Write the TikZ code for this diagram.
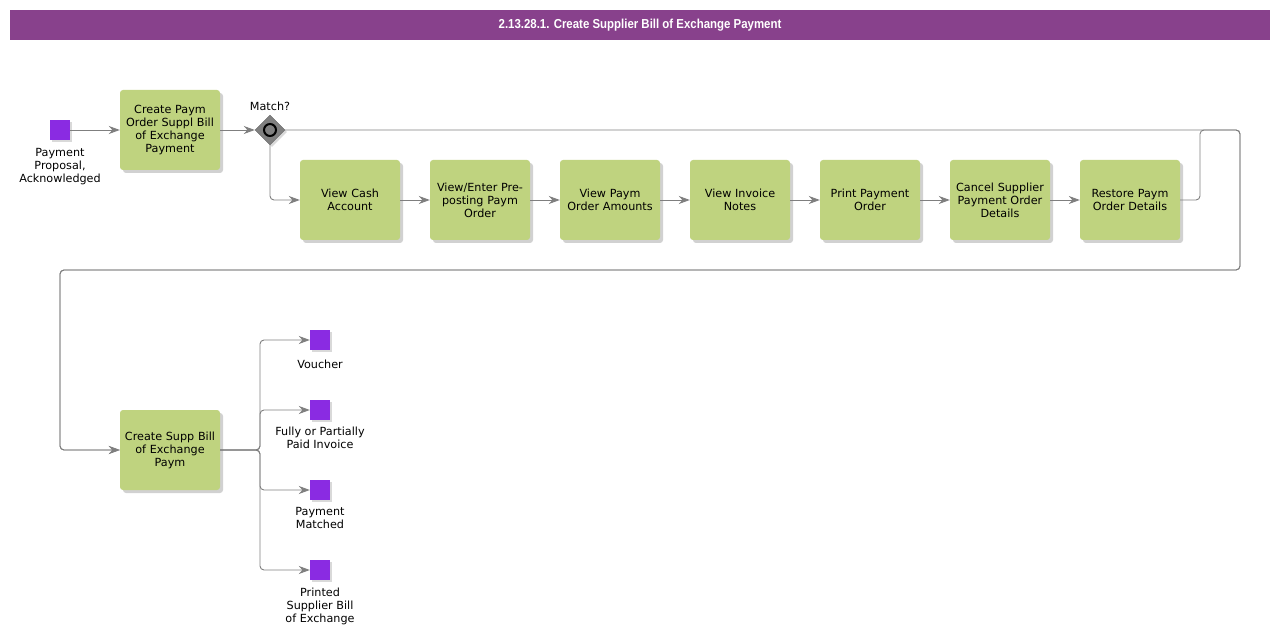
\documentclass[tikz,border=0pt]{standalone}
\usepackage{fontspec}
\setmainfont{DejaVu Sans}
\newfontfamily\titlefont[FakeStretch=0.88]{Liberation Sans}
\usetikzlibrary{positioning,arrows.meta,shadows,shapes.geometric}

\definecolor{barpurple}{HTML}{88418C}
\definecolor{evtpurple}{HTML}{8A2BE2}
\definecolor{taskgreen}{HTML}{BFD37F}
\definecolor{linegray}{HTML}{7F7F7F}
\definecolor{gategray}{HTML}{808080}

\tikzset{
  task/.style={fill=taskgreen, rounded corners=3pt, minimum width=100pt, minimum height=80pt,
    text width=99pt, align=center, inner sep=0pt, font=\fontsize{11.2}{13}\selectfont,
    drop shadow={shadow xshift=3pt, shadow yshift=-3pt, fill=black, opacity=0.18}},
  evt/.style={fill=evtpurple, minimum size=20pt, inner sep=0pt,
    drop shadow={shadow xshift=2pt, shadow yshift=-2pt, fill=black, opacity=0.15}},
  evtlbl/.style={align=center, inner sep=0pt, font=\fontsize{11.2}{13}\selectfont},
  gate/.style={diamond, fill=gategray, draw=black!60, minimum size=30pt, inner sep=0pt,
    drop shadow={shadow xshift=2pt, shadow yshift=-2pt, fill=black, opacity=0.15}},
  flow/.style={draw=linegray, line width=0.9pt, rounded corners=4pt,
    -{Stealth[length=11pt,width=8pt]}, color=linegray},
}

\begin{document}
\begin{tikzpicture}[x=1pt,y=-1pt]
\useasboundingbox (0,0) rectangle (1280,636);
% ---- title bar ----
\node[fill=barpurple, minimum width=1260pt, minimum height=30pt, inner sep=0pt,
  text=white, font=\titlefont\bfseries\fontsize{13}{14}\selectfont] (title) at (640,25)
  {2.13.28.1. Create Supplier Bill of Exchange Payment};

% ---- top row ----
\node[evt] (start) at (60,130) {};
\node[evtlbl, below=8pt of start] (startlbl) {Payment\\Proposal,\\Acknowledged};
\node[task] (createorder) at (170,130) {Create Paym\\Order Suppl Bill\\of Exchange\\Payment};
\node[gate] (match) at (270,130) {};
\draw[black, line width=2pt, fill=gategray] (match.center) circle (6pt);
\node[evtlbl, above=4pt of match] (matchlbl) {Match?};

% ---- second row ----
\node[task] (viewcash) at (350,200) {View Cash\\Account};
\node[task] (viewenter) at (480,200) {View/Enter Pre-\\posting Paym\\Order};
\node[task] (viewamounts) at (610,200) {View Paym\\Order Amounts};
\node[task] (viewnotes) at (740,200) {View Invoice\\Notes};
\node[task] (printorder) at (870,200) {Print Payment\\Order};
\node[task] (cancelorder) at (1000,200) {Cancel Supplier\\Payment Order\\Details};
\node[task] (restore) at (1130,200) {Restore Paym\\Order Details};

% ---- bottom part ----
\node[task] (suppbill) at (170,450) {Create Supp Bill\\of Exchange\\Paym};
\node[evt] (voucher) at (320,340) {};
\node[evtlbl, below=10pt of voucher] (voucherlbl) {Voucher};
\node[evt] (paidinv) at (320,410) {};
\node[evtlbl, below=7pt of paidinv] (paidinvlbl) {Fully or Partially\\Paid Invoice};
\node[evt] (paymatched) at (320,490) {};
\node[evtlbl, below=7pt of paymatched] (paymatchedlbl) {Payment\\Matched};
\node[evt] (printed) at (320,570) {};
\node[evtlbl, below=8pt of printed] (printedlbl) {Printed\\Supplier Bill\\of Exchange};

% ---- connectors ----
\draw[flow] (start) -- (createorder);
\draw[flow] (createorder) -- (match);
\draw[flow] (match.south) |- (viewcash);
\foreach \a/\b in {viewcash/viewenter, viewenter/viewamounts, viewamounts/viewnotes,
  viewnotes/printorder, printorder/cancelorder, cancelorder/restore}
  \draw[flow] (\a) -- (\b);
\draw[flow] (match.east) -- (1240,130) -- (1240,270) -- (60,270) |- (suppbill);
\draw[flow] (restore.east) -- (1200,200) -- (1200,130) -- (1240,130) -- (1240,270)
  -- (60,270) |- (suppbill);
\foreach \e in {voucher, paidinv, paymatched, printed}
  \draw[flow] (suppbill.east) -- (260,450) |- (\e);
\end{tikzpicture}
\end{document}
